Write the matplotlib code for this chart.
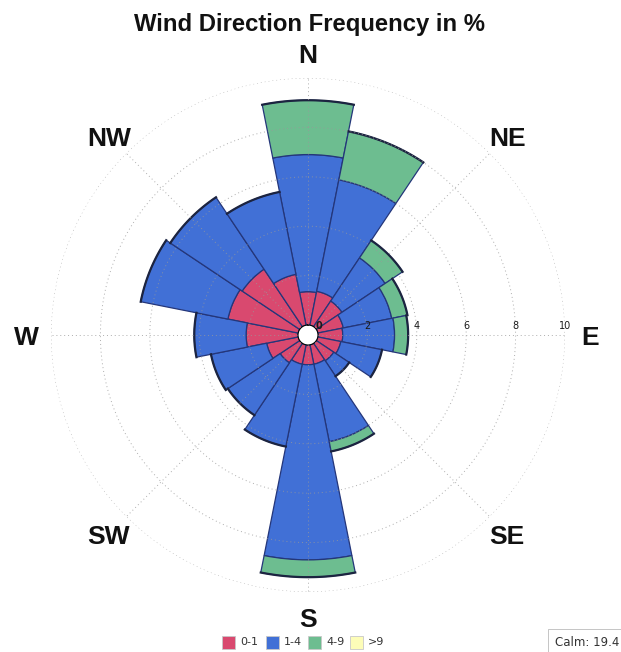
import matplotlib
matplotlib.use('Agg')
import matplotlib.pyplot as plt
import matplotlib.transforms as mtransforms
import numpy as np
from matplotlib.patches import Rectangle

directions = ['N', 'NNE', 'NE', 'ENE', 'E', 'ESE', 'SE', 'SSE',
              'S', 'SSW', 'SW', 'WSW', 'W', 'WNW', 'NW', 'NNW']
speed_bins = ['0-1', '1-4', '4-9', '>9']
freq_0_1 = [1.35, 1.4, 1.25, 1.05, 1.0, 0.95, 0.85, 0.8, 0.8, 0.8, 0.95, 1.3, 2.1, 2.9, 2.8, 2.1]
freq_1_4 = [5.55, 4.6, 2.1, 2.0, 2.1, 1.7, 0.75, 3.2, 7.9, 3.4, 2.55, 2.3, 2.1, 3.6, 3.5, 3.4]
freq_4_9 = [2.2, 2.0, 0.85, 0.65, 0.55, 0.0, 0.0, 0.4, 0.7, 0.0, 0.0, 0.0, 0.0, 0.0, 0.0, 0.0]
freq_gt9 = [0.0] * 16
calm = 19.4
rticks = [0, 2, 4, 6, 8, 10]
compass = ['N', 'NE', 'E', 'SE', 'S', 'SW', 'W', 'NW']

colors = ['#d9496f', '#4170d6', '#6dbd90', '#fdfdb8']
edge = '#24367a'

plt.rcParams['font.family'] = ['Liberation Sans', 'DejaVu Sans']

W, H = 621, 652
fig = plt.figure(figsize=(W / 100, H / 100), dpi=100)
cx, cy = 308, 335
k = 24.7            # px per unit
hole = 10           # px
rmax = 10
rorig = -hole / k
R = (rmax - rorig) * k
ax = fig.add_axes([(cx - R) / W, (H - cy - R) / H, 2 * R / W, 2 * R / H], projection='polar')
ax.set_theta_zero_location('N')
ax.set_theta_direction(-1)
ax.set_ylim(0, rmax)
ax.set_rorigin(rorig)
ax.spines['polar'].set_visible(False)
ax.grid(False)
ax.set_xticks([])
ax.set_yticks([])
ax.patch.set_alpha(0)

theta = np.deg2rad(np.arange(16) * 22.5)
width = np.deg2rad(22.5)
bands = [freq_0_1, freq_1_4, freq_4_9, freq_gt9]
bottom = np.zeros(16)
for vals, col in zip(bands, colors):
    v = np.array(vals)
    mask = v > 0
    ax.bar(theta[mask], v[mask], width=width, bottom=bottom[mask], color=col,
           edgecolor=edge, linewidth=0.9, zorder=2)
    bottom = bottom + v

# outer outline
total = bottom
for t, tot in zip(theta, total):
    tt = np.linspace(t - width / 2, t + width / 2, 30)
    ax.plot(tt, np.full_like(tt, tot), color='#1c2440', lw=1.6, zorder=3)

# grid circles
tt = np.linspace(0, 2 * np.pi, 400)
for r in rticks[1:]:
    ax.plot(tt, np.full_like(tt, r), color='#999999', lw=0.7, ls=(0, (1, 3)), zorder=4, alpha=0.8)
for ang in np.arange(0, 360, 45):
    a = np.deg2rad(ang)
    ax.plot([a, a], [0, rmax], color='#999999', lw=0.7, ls=(0, (1, 3)), zorder=4, alpha=0.8)

# radial labels
lab_tr = mtransforms.offset_copy(ax.transData, fig=fig, x=0, y=9, units='dots')
for r in rticks:
    ax.text(np.pi / 2, max(r, 0.02), str(r), fontsize=7, color='#1a1a1a', transform=lab_tr,
            ha='center', va='center', zorder=6, family='DejaVu Sans', clip_on=False,
            fontweight='bold' if r == 0 else 'normal')

# compass labels
cmp_tr = mtransforms.offset_copy(ax.transData, fig=fig, x=0, y=-3, units='dots')
for i, lab in enumerate(compass):
    ax.text(np.deg2rad(i * 45), 11.0, lab, fontsize=19, fontweight='bold', transform=cmp_tr,
            ha='center', va='center', color='#111111', clip_on=False)

fig.text(310 / W, 1 - 25 / H, 'Wind Direction Frequency in %', fontsize=17.2,
         fontweight='bold', ha='center', va='center', color='#111111')

# legend
lx = [222, 266, 308, 350]
ly = 642
for x0, lab, col in zip(lx, speed_bins, colors):
    fig.patches.append(Rectangle((x0 / W, 1 - (ly + 6.5) / H), 13 / W, 13 / H,
                                 transform=fig.transFigure, facecolor=col,
                                 edgecolor='#c8c8c8', lw=0.6))
    fig.text((x0 + 18) / W, 1 - ly / H, lab, fontsize=8, ha='left', va='center',
             color='#333333', family='DejaVu Sans')

fig.patches.append(Rectangle((548 / W, 1 - 660 / H), 90 / W, 31 / H, transform=fig.transFigure,
                             facecolor='white', edgecolor='#bbbbbb', lw=0.6))
fig.text(555 / W, 1 - 643 / H, f'Calm: {calm}', fontsize=8.5, ha='left', va='center',
         color='#333333', family='DejaVu Sans')

fig.savefig('out.png', dpi=100)
